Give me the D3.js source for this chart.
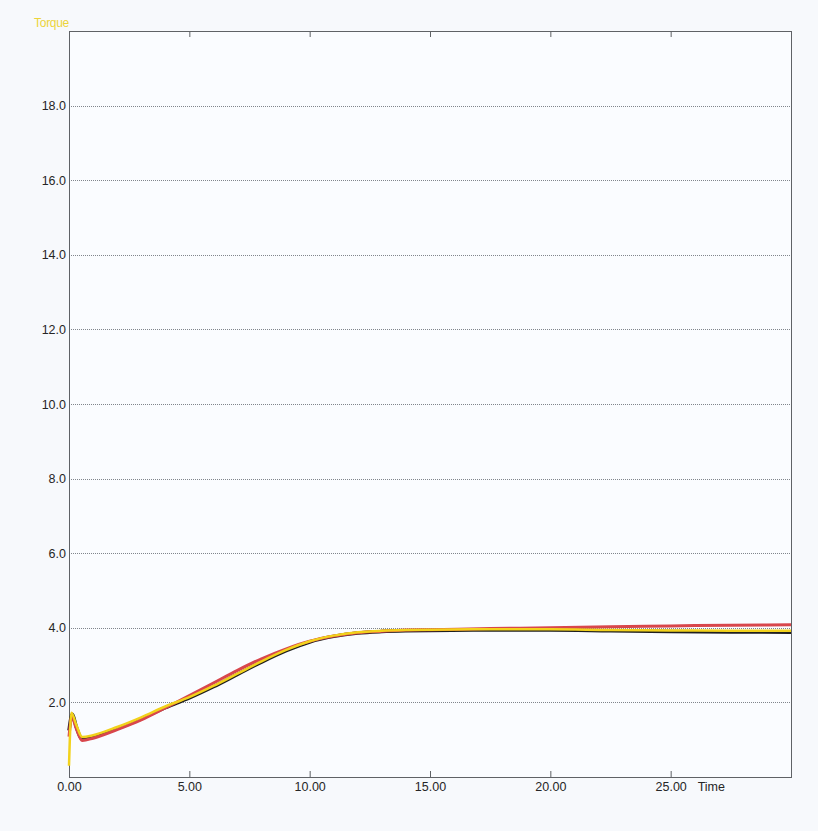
<!DOCTYPE html>
<html>
<head>
<meta charset="utf-8">
<script src="https://cdn.jsdelivr.net/npm/d3@7"></script>
<style>
  body { margin: 0; background: #f7f9fc; }
  svg { display: block; font-family: "Liberation Sans", Arial, sans-serif; }
</style>
</head>
<body>
<svg id="chart" width="818" height="831"></svg>
<script>
// time (s) sample points for each curve
const timeRed    = [0, 0.12, 0.3, 0.55, 1, 2, 3, 4, 5, 6, 7, 8, 9, 10, 11, 12, 13, 14, 15, 17.5, 20, 22.5, 25, 27.5, 30];
const torqueRed  = [1.08, 1.62, 1.3, 0.98, 1.04, 1.27, 1.53, 1.85, 2.18, 2.52, 2.86, 3.17, 3.43, 3.64, 3.78, 3.87, 3.91, 3.94, 3.95, 3.98, 4.0, 4.03, 4.05, 4.07, 4.08];

const timeBlack   = [0, 0.14, 0.3, 0.55, 1, 2, 3, 4, 5, 6, 7, 8, 9, 10, 11, 12, 13, 14, 15, 17.5, 20, 22.5, 25, 27.5, 30];
const torqueBlack = [1.25, 1.68, 1.35, 1.02, 1.08, 1.3, 1.56, 1.86, 2.12, 2.42, 2.75, 3.08, 3.38, 3.62, 3.77, 3.86, 3.9, 3.92, 3.93, 3.94, 3.94, 3.92, 3.9, 3.89, 3.88];

const timeYellow   = [0, 0.1, 0.3, 0.55, 1, 2, 3, 4, 5, 6, 7, 8, 9, 10, 11, 12, 13, 14, 15, 17.5, 20, 22.5, 25, 27.5, 30];
const torqueYellow = [0.3, 1.72, 1.4, 1.07, 1.12, 1.34, 1.6, 1.89, 2.14, 2.44, 2.77, 3.1, 3.4, 3.64, 3.79, 3.88, 3.92, 3.94, 3.95, 3.96, 3.96, 3.94, 3.93, 3.92, 3.92];

const xTicks = [0, 5, 10, 15, 20, 25];
const yTicks = [2, 4, 6, 8, 10, 12, 14, 16, 18];

const margin = { top: 31, right: 27, bottom: 54, left: 69 };
const W = 818, H = 831;
const width = W - margin.left - margin.right;
const height = H - margin.top - margin.bottom;

const svg = d3.select('#chart');
const g = svg.append('g').attr('transform', `translate(${margin.left},${margin.top})`);

const x = d3.scaleLinear().domain([0, 30]).range([0, width]);
const y = d3.scaleLinear().domain([0, 20]).range([height, 0]);

// plot background
g.append('rect').attr('width', width).attr('height', height).attr('fill', '#fafcff');

// horizontal dotted grid
g.selectAll('line.grid')
  .data(yTicks)
  .enter()
  .append('line')
  .attr('class', 'grid')
  .attr('x1', 0).attr('x2', width)
  .attr('y1', d => Math.round(y(d)) + 0.5).attr('y2', d => Math.round(y(d)) + 0.5)
  .attr('stroke', '#80858c')
  .attr('stroke-width', 1)
  .attr('stroke-dasharray', '1,1');

// frame
g.append('rect')
  .attr('x', 0.5).attr('y', 0.5)
  .attr('width', width).attr('height', height)
  .attr('fill', 'none')
  .attr('stroke', '#5f6266')
  .attr('stroke-width', 1);

// Y axis labels
const yAxis = g.append('g')
  .call(d3.axisLeft(y).tickValues(yTicks).tickFormat(d3.format('.1f')).tickSize(0).tickPadding(3));
yAxis.select('.domain').remove();
yAxis.selectAll('text').attr('font-size', 12.5).attr('fill', '#262626').attr('font-family', '"Liberation Sans", Arial, sans-serif');

// bottom axis, ticks pointing inward
const xAxis = g.append('g')
  .attr('transform', `translate(0,${height})`)
  .call(d3.axisBottom(x).tickValues(xTicks).tickFormat(d3.format('.2f')).tickSizeInner(-6).tickSizeOuter(0).tickPadding(5));
xAxis.select('.domain').remove();
xAxis.selectAll('line').attr('stroke', '#5f6266');
xAxis.selectAll('text').attr('font-size', 12.5).attr('fill', '#262626').attr('font-family', '"Liberation Sans", Arial, sans-serif');

// top edge ticks pointing inward
const xTop = g.append('g')
  .call(d3.axisTop(x).tickValues(xTicks.filter(d => d > 0)).tickFormat('').tickSizeInner(-6).tickSizeOuter(0));
xTop.select('.domain').remove();
xTop.selectAll('line').attr('stroke', '#5f6266');

// axis titles
g.append('text')
  .attr('x', x(25) + 27).attr('y', height + 5)
  .attr('dy', '0.71em')
  .attr('font-size', 12.5).attr('fill', '#262626')
  .text('Time');

g.append('text')
  .attr('x', 0).attr('y', -4)
  .attr('text-anchor', 'end')
  .attr('font-size', 12).attr('fill', '#ecd43a')
  .attr('letter-spacing', -0.3)
  .text('Torque');

// curves
const line = d3.line()
  .x(d => x(d[0]))
  .y(d => y(d[1]))
  .curve(d3.curveMonotoneX);

const series = [
  { t: timeBlack, v: torqueBlack, color: '#1f1f1f', w: 3.5 },
  { t: timeRed, v: torqueRed, color: '#d8464c', w: 3 },
  { t: timeYellow, v: torqueYellow, color: '#f2d21c', w: 2.5 }
];

g.append('g')
  .selectAll('path')
  .data(series)
  .enter()
  .append('path')
  .attr('d', s => line(d3.zip(s.t, s.v)))
  .attr('fill', 'none')
  .attr('stroke', s => s.color)
  .attr('stroke-width', s => s.w)
  .attr('stroke-linejoin', 'round');
</script>
</body>
</html>
